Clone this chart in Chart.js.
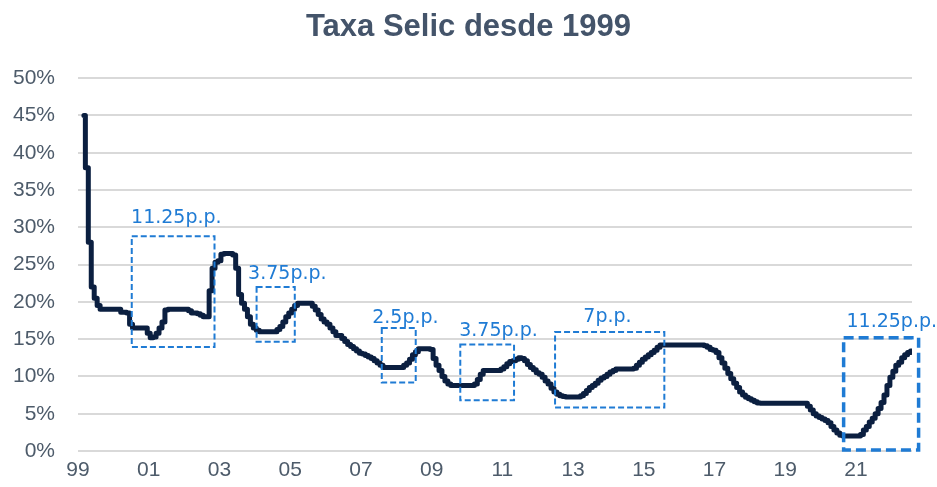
<!DOCTYPE html>
<html>
<head>
<meta charset="utf-8">
<script src="https://cdn.jsdelivr.net/npm/chart.js@4/dist/chart.umd.min.js"></script>
<style>
  body { margin: 0; background: #fff; }
  #wrap { width: 937px; height: 487px; }
</style>
</head>
<body>
<div id="wrap"><canvas id="myChart"></canvas></div>
<script>
// monthly Selic (% a.a.), starting March 1999
const firstYear = 1999;
const firstMonth = 3;
const selic = [
  // 1999 (Mar-Dec)
  45, 38, 28, 22, 20.5, 19.5, 19, 19, 19, 19,
  // 2000
  19, 19, 19, 18.6, 18.6, 18.5, 17, 16.5, 16.5, 16.5, 16.5, 16.5,
  // 2001
  15.8, 15.2, 15.3, 15.8, 16.5, 17.3, 18.9, 19, 19, 19, 19, 19,
  // 2002
  19, 19, 18.8, 18.5, 18.5, 18.4, 18.2, 18, 18, 21.5, 24.5, 25.3,
  // 2003
  25.5, 26.4, 26.5, 26.5, 26.5, 26.3, 24.5, 21, 19.8, 19, 18, 17,
  // 2004
  16.5, 16.2, 16, 16, 16, 16, 16, 16, 16.3, 16.7, 17.3, 18,
  // 2005
  18.5, 19, 19.5, 19.8, 19.8, 19.8, 19.8, 19.8, 19.4, 18.9, 18.3, 17.7,
  // 2006
  17.3, 17, 16.5, 16, 15.5, 15.5, 15.1, 14.7, 14.3, 14, 13.7, 13.4,
  // 2007
  13.1, 13, 12.8, 12.6, 12.4, 12.1, 11.8, 11.5, 11.2, 11.2, 11.2, 11.2,
  // 2008
  11.2, 11.2, 11.2, 11.5, 11.8, 12.3, 12.9, 13.3, 13.7, 13.7, 13.7, 13.7,
  // 2009
  13.6, 12.4, 11.5, 10.8, 10, 9.4, 9, 8.8, 8.8, 8.8, 8.8, 8.8,
  // 2010
  8.8, 8.8, 8.8, 9, 9.6, 10.3, 10.8, 10.8, 10.8, 10.8, 10.8, 10.8,
  // 2011
  11, 11.3, 11.7, 12, 12.1, 12.3, 12.5, 12.4, 12.1, 11.6, 11.2, 10.9,
  // 2012
  10.5, 10.3, 9.9, 9.4, 9, 8.4, 7.9, 7.6, 7.4, 7.3, 7.25, 7.25,
  // 2013
  7.25, 7.25, 7.25, 7.4, 7.7, 8.1, 8.5, 8.8, 9.1, 9.5, 9.8, 10,
  // 2014
  10.3, 10.6, 10.8, 11, 11, 11, 11, 11, 11, 11.1, 11.5, 11.9,
  // 2015
  12.3, 12.6, 12.9, 13.2, 13.5, 13.9, 14.2, 14.2, 14.2, 14.2, 14.2, 14.2,
  // 2016
  14.2, 14.2, 14.2, 14.2, 14.2, 14.2, 14.2, 14.2, 14.2, 14.1, 13.9, 13.6,
  // 2017
  13.5, 13.2, 12.5, 11.8, 11.1, 10.4, 9.7, 9.1, 8.5, 7.9, 7.5, 7.2,
  // 2018
  7, 6.8, 6.6, 6.45, 6.4, 6.4, 6.4, 6.4, 6.4, 6.4, 6.4, 6.4,
  // 2019
  6.4, 6.4, 6.4, 6.4, 6.4, 6.4, 6.4, 6.4, 6, 5.5, 5, 4.7,
  // 2020
  4.5, 4.3, 4.1, 3.8, 3.3, 2.8, 2.4, 2.1, 2, 2, 2, 2,
  // 2021
  2, 2, 2.2, 2.8, 3.3, 3.9, 4.4, 5, 5.7, 6.5, 7.5, 8.8,
  // 2022 (Jan-Aug)
  9.9, 10.7, 11.5, 11.9, 12.5, 12.9, 13.2, 13.4
];

const yearTicks = [1999, 2001, 2003, 2005, 2007, 2009, 2011, 2013, 2015, 2017, 2019, 2021];
const yTicks = [0, 5, 10, 15, 20, 25, 30, 35, 40, 45, 50];

// dashed boxes: [xFrom, xTo, yFrom, yTo] in years / %
const boxes = [
  [2000.52, 2002.86, 13.96, 28.8],
  [2004.05, 2005.13, 14.66, 22.0],
  [2007.59, 2008.55, 9.19, 16.5],
  [2009.81, 2011.33, 6.8, 14.3],
  [2012.49, 2015.58, 5.85, 15.97],
  [2020.65, 2022.77, 0.13, 15.2]
];
const boxLabels = ['11.25p.p.', '3.75p.p.', '2.5p.p.', '3.75p.p.', '7p.p.', '11.25p.p.'];
const labelX = [2000.5, 2003.81, 2007.32, 2009.78, 2013.29, 2020.73];
const labelY = [31.2, 23.7, 17.8, 16.1, 17.9, 17.3];

const points = selic.map((v, i) => ({
  x: firstYear + (firstMonth - 1 + i) / 12,
  y: v
}));

const boxPlugin = {
  id: 'boxes',
  afterDatasetsDraw(chart) {
    const ctx = chart.ctx;
    const xs = chart.scales.x, ys = chart.scales.y;
    ctx.save();
    boxes.forEach((b, i) => {
      const big = i === boxes.length - 1;
      const x1 = xs.getPixelForValue(b[0]), x2 = xs.getPixelForValue(b[1]);
      const y1 = ys.getPixelForValue(b[3]), y2 = ys.getPixelForValue(b[2]);
      ctx.strokeStyle = '#1F7BD4';
      ctx.lineWidth = big ? 3.5 : 2;
      ctx.setLineDash(big ? [10, 5] : [6, 3]);
      ctx.strokeRect(x1, y1, x2 - x1, y2 - y1);
      ctx.setLineDash([]);
      ctx.fillStyle = '#1F7BD4';
      ctx.font = '19px "DejaVu Sans"';
      ctx.textAlign = 'left';
      ctx.textBaseline = 'middle';
      ctx.fillText(boxLabels[i], xs.getPixelForValue(labelX[i]), ys.getPixelForValue(labelY[i]));
    });
    ctx.restore();
  }
};

const config = {
  type: 'line',
  data: {
    datasets: [{
      data: points,
      borderColor: '#0B1F40',
      borderWidth: 5,
      pointRadius: 0,
      stepped: 'middle',
      borderJoinStyle: 'round',
      borderCapStyle: 'round',
      fill: false
    }]
  },
  options: {
    responsive: true,
    maintainAspectRatio: false,
    animation: false,
    layout: { padding: 0 },
    plugins: {
      legend: { display: false },
      tooltip: { enabled: false },
      title: {
        display: true,
        text: 'Taxa Selic desde 1999',
        color: '#44546A',
        font: { family: '"Liberation Sans", Arial', size: 31, weight: 'bold' },
        padding: { top: 9, bottom: 32 }
      }
    },
    scales: {
      x: {
        type: 'linear',
        min: 1999,
        max: firstYear + (firstMonth - 1 + selic.length - 1) / 12,
        afterBuildTicks: (scale) => { scale.ticks = yearTicks.map(v => ({ value: v })); },
        afterFit: (scale) => { scale.height = 36; },
        grid: { display: false, drawTicks: false },
        border: { display: false },
        ticks: {
          autoSkip: false,
          maxRotation: 0,
          padding: 7,
          color: '#4D5B6A',
          font: { family: '"Liberation Sans", Arial', size: 21 },
          callback: (v) => String(v % 100).padStart(2, '0')
        }
      },
      y: {
        min: 0,
        max: 50,
        afterBuildTicks: (scale) => { scale.ticks = yTicks.map(v => ({ value: v })); },
        afterFit: (scale) => { scale.width = 78; },
        grid: { color: '#D9D9D9', lineWidth: 2, drawTicks: false },
        border: { display: false },
        ticks: {
          padding: 23,
          color: '#4D5B6A',
          font: { family: '"Liberation Sans", Arial', size: 21 },
          callback: (v) => v + '%'
        }
      },
      // empty right-hand margin axis
      yRight: {
        position: 'right',
        min: 0,
        max: 50,
        afterFit: (scale) => { scale.width = 25; },
        grid: { display: false, drawTicks: false },
        border: { display: false },
        ticks: { display: false }
      }
    }
  },
  plugins: [boxPlugin]
};

const myChart = new Chart(document.getElementById('myChart'), config);
</script>
</body>
</html>
